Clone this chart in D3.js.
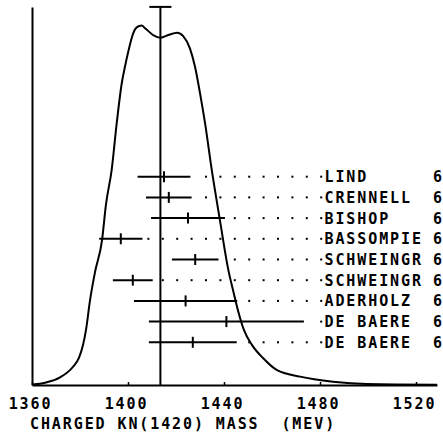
<!DOCTYPE html>
<html>
<head>
<meta charset="utf-8">
<script src="https://cdn.jsdelivr.net/npm/d3@7"></script>
<style>
  html, body { margin: 0; padding: 0; background: #fff; }
  svg { display: block; }
  text { font-family: "DejaVu Sans Mono", "Liberation Mono", monospace; font-weight: bold; fill: #000; }
</style>
</head>
<body>
<svg id="chart" width="443" height="433"></svg>
<script>
// Ideogram curve: mass (MeV) and relative height
const curveMass = [1360.4, 1365.4, 1371.7, 1377.1, 1379.6, 1381.25, 1382.5, 1384.2, 1386.25, 1389.2,
  1390.8, 1393.2, 1395.3, 1397.4, 1398.75, 1400.1, 1402.2, 1403.6, 1405.7, 1407.1,
  1410.5, 1413.6, 1416.8, 1420.5, 1423.0, 1425.8, 1427.9, 1430.0, 1432.1, 1434.9,
  1438.3, 1441.8, 1443.75, 1445.8, 1448.3, 1451.7, 1456.25, 1462.1, 1471.7, 1485.4,
  1499.6, 1528.75];
const curveValue = [0.13, 0.6, 2.0, 4.8, 7.2, 10.5, 14.5, 22.4, 29.7, 38.2,
  47.4, 56.6, 68.9, 79.4, 83.8, 87.7, 92.6, 94.1, 94.6, 93.9,
  92.1, 91.4, 92.1, 92.7, 91.8, 88.6, 83.8, 76.8, 68.9, 56.6,
  43.4, 30.3, 25.0, 19.7, 14.5, 10.5, 7.1, 3.9, 2.2, 0.87,
  0.26, 0.08];

// Individual measurements
const experiments = ["LIND", "CRENNELL", "BISHOP", "BASSOMPIE", "SCHWEINGR", "SCHWEINGR", "ADERHOLZ", "DE BAERE", "DE BAERE"];
const massValues = [1415, 1417, 1425, 1397, 1428, 1402, 1424, 1441, 1427];
const massErrors = [11, 9.5, 15.4, 9, 9.7, 8.3, 21.5, 32.3, 18.3];
const columnTag = ["6", "6", "6", "6", "6", "6", "6", "6", "6"];

// Weighted average and its error
const average = 1413.5;
const averageError = 4.6;

// Axis
const tickValues = [1360, 1400, 1440, 1480, 1520];
const axisTitle = "CHARGED KN(1420) MASS  (MEV)";
const massDomain = [1360, 1528.75];
const valueDomain = [0, 100];
const valueTop = 99.5;

// Dotted leaders sit on a fixed mass grid ending just before the label
const leaderEnd = 1480.5;
const leaderStep = 6;

const svg = d3.select("#chart");
const x = d3.scaleLinear().domain(massDomain).range([32, 437]);
const y = d3.scaleLinear().domain(valueDomain).range([385, 5]);
const row = d3.scaleLinear().domain([0, 1]).range([176.7, 197.4]);

const fontSize = 15;
const spacing = 1.9;

// x axis
const xAxis = svg.append("g")
  .attr("transform", `translate(0,${y(0)})`)
  .call(d3.axisBottom(x).tickValues(tickValues).tickSizeInner(-3).tickSizeOuter(0).tickPadding(13).tickFormat(d3.format("d")));
xAxis.select(".domain").attr("stroke", "#000").attr("stroke-width", 2);
xAxis.selectAll(".tick line").attr("stroke", "#000").attr("stroke-width", 1.5);
xAxis.selectAll(".tick text")
  .attr("font-family", "DejaVu Sans Mono")
  .attr("font-weight", "bold")
  .attr("font-size", fontSize)
  .attr("letter-spacing", spacing)
  .attr("dx", -2)
  .attr("fill", "#000");

// y axis (no ticks)
const yAxis = svg.append("g")
  .attr("transform", `translate(${x(massDomain[0])},0)`)
  .call(d3.axisLeft(d3.scaleLinear().domain([0, valueTop]).range([y(0), y(valueTop)])).tickValues([]).tickSizeOuter(0));
yAxis.select(".domain").attr("stroke", "#000").attr("stroke-width", 2);

// axis title
svg.append("text")
  .attr("x", 30)
  .attr("y", 429)
  .attr("font-size", fontSize)
  .attr("letter-spacing", spacing)
  .attr("xml:space", "preserve")
  .style("white-space", "pre")
  .text(axisTitle);

// ideogram curve
const pts = curveMass.map((m, i) => [m, curveValue[i]]);
svg.append("path")
  .datum(pts)
  .attr("fill", "none")
  .attr("stroke", "#000")
  .attr("stroke-width", 2)
  .attr("stroke-linejoin", "round")
  .attr("d", d3.line().x(d => x(d[0])).y(d => y(d[1])).curve(d3.curveMonotoneX));

// average line with cap
svg.append("line")
  .attr("x1", x(average)).attr("x2", x(average))
  .attr("y1", y(0)).attr("y2", y(valueTop))
  .attr("stroke", "#000").attr("stroke-width", 2);
svg.append("line")
  .attr("x1", x(average - averageError)).attr("x2", x(average + averageError))
  .attr("y1", y(valueTop)).attr("y2", y(valueTop))
  .attr("stroke", "#000").attr("stroke-width", 2);

// measurements
const rows = svg.append("g").selectAll("g")
  .data(experiments.map((name, i) => ({ name, m: massValues[i], e: massErrors[i], tag: columnTag[i], i })))
  .join("g")
  .attr("transform", d => `translate(0,${row(d.i)})`);

rows.append("line")
  .attr("x1", d => x(d.m - d.e)).attr("x2", d => x(d.m + d.e))
  .attr("y1", 0).attr("y2", 0)
  .attr("stroke", "#000").attr("stroke-width", 2);
rows.append("line")
  .attr("x1", d => x(d.m)).attr("x2", d => x(d.m))
  .attr("y1", -5.5).attr("y2", 5.5)
  .attr("stroke", "#000").attr("stroke-width", 2);

rows.each(function(d) {
  const g = d3.select(this);
  const dots = [];
  for (let k = 0; ; k++) {
    const m = leaderEnd - k * leaderStep;
    if (m <= d.m + d.e + 1.2) break;
    dots.push(m);
  }
  g.selectAll("rect.dot").data(dots).join("rect")
    .attr("class", "dot")
    .attr("x", m => x(m) - 1).attr("y", -1)
    .attr("width", 2).attr("height", 2)
    .attr("fill", "#000");
});

rows.append("text")
  .attr("x", 324.5)
  .attr("y", 5.5)
  .attr("font-size", fontSize)
  .attr("letter-spacing", spacing)
  .text(d => d.name);
rows.append("text")
  .attr("x", 433)
  .attr("y", 5.5)
  .attr("font-size", fontSize)
  .text(d => d.tag);
</script>
</body>
</html>
